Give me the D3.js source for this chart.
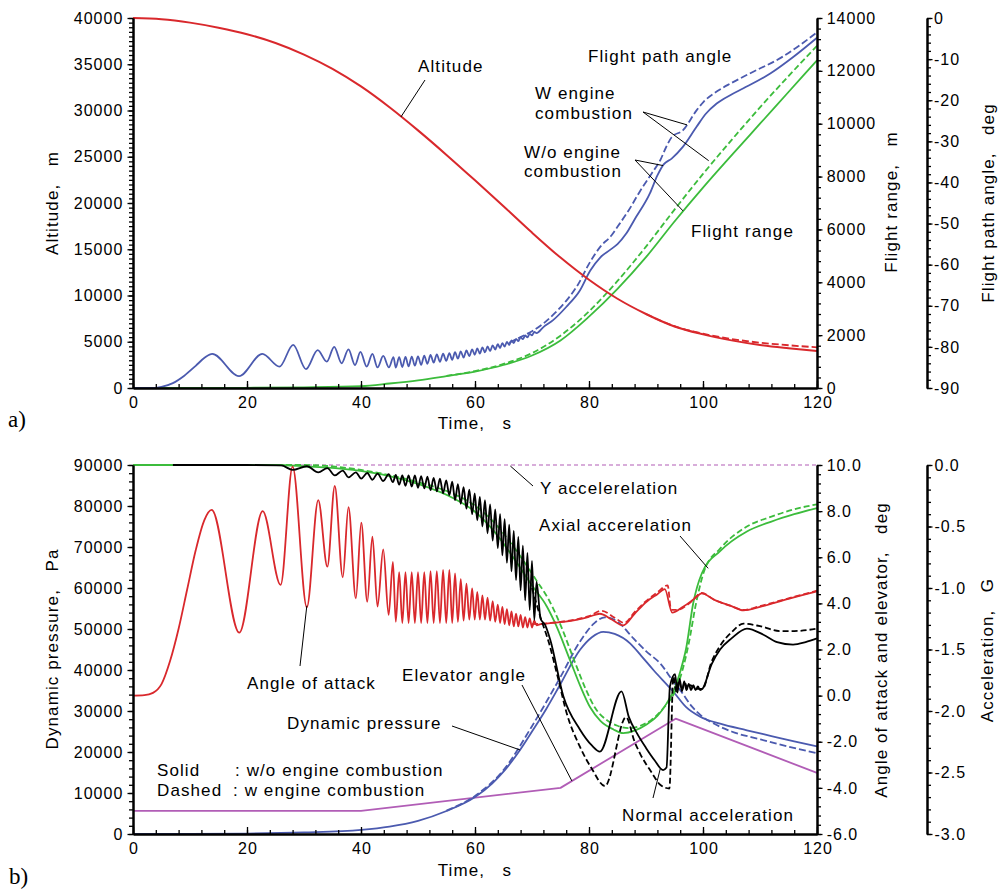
<!DOCTYPE html>
<html><head><meta charset="utf-8">
<script src="https://cdn.jsdelivr.net/npm/d3@7/dist/d3.min.js"></script>
<style>html,body{margin:0;padding:0;background:#fff;} text{white-space:pre;}</style>
</head><body>
<svg id="chart" width="1003" height="893" xmlns="http://www.w3.org/2000/svg"></svg>
<script>
// ---------------- tick labels ----------------
const timeTicks = [0,20,40,60,80,100,120];
const altTicks = [0,5000,10000,15000,20000,25000,30000,35000,40000];
const rangeTicks = [0,2000,4000,6000,8000,10000,12000,14000];
const fpaTicks = [0,-10,-20,-30,-40,-50,-60,-70,-80,-90];
const qTicks = [0,10000,20000,30000,40000,50000,60000,70000,80000,90000];
const degTicks = [-6,-4,-2,0,2,4,6,8,10];
const gTicks = [0,-0.5,-1,-1.5,-2,-2.5,-3];

// ---------------- panel a) ----------------
const altitudeSolid = [[0,40000],[5,39870],[10,39500],[15,38950],[20,38250],[25,37300],[30,36050],[35,34500],[40,32600],[45,30350],[50,27850],[55,25200],[60,22450],[65,19650],[70,16800],[75,14100],[80,11700],[85,9650],[90,8000],[95,6650],[100,5800],[105,5150],[110,4650],[115,4300],[120,4000]];
const altitudeDashed = [[90,8000],[95,6680],[100,5870],[105,5300],[110,4900],[115,4620],[120,4400]];
const rangeSolid = [[0,0],[10,2],[20,8],[30,25],[40,70],[45,170],[50,290],[55,450],[60,620],[65,870],[70,1230],[75,1800],[80,2700],[85,3750],[90,4950],[95,6300],[100,7580],[105,8800],[110,10000],[115,11200],[120,12400]];
const rangeDashed = [[55,460],[60,640],[65,910],[70,1320],[75,1980],[80,2900],[85,4050],[90,5350],[95,6750],[100,8100],[105,9380],[110,10620],[115,11800],[120,12950]];
const fpaEarly = [[0,-90],[3,-90],[5,-89.7],[7,-88.8],[9,-87.0],[11,-84.6],[12.6,-82.6],[13.9,-81.7],[18.6,-87.1],[22.7,-81.7],[25.7,-84.8],[28.1,-79.5],[30.35,-85.4],[32.4,-80.8],[34.0,-83.6],[35.3,-80.0],[36.6,-84.0],[37.8,-80.6],[38.95,-84.4],[39.9,-81.2],[41.0,-84.8],[42.0,-81.7],[42.9,-85.0],[43.9,-82.2],[44.9,-85.0],[45.7,-82.5]];
const fpaLate = [[72,-75.2],[73.7,-73.5],[76,-70.3],[78.4,-66.3],[80.2,-61.5],[82,-58.2],[83.7,-56.4],[85,-55.0],[86.5,-52.5],[88,-49.0],[90.7,-42.6],[92,-38.3],[93.1,-35.6],[94.5,-34.2],[96.5,-31.3],[98.9,-26.4],[100.5,-23.3],[102.4,-20.8],[105,-18.6],[107.1,-17.1],[111.8,-13.5],[116,-9.3],[120,-4.8]];
const fpaDashed = [[66,-79.0],[68,-77.6],[70,-76.2],[72,-74.3],[74,-71.8],[76,-68.8],[78,-65.0],[80,-59.8],[82,-55.6],[84,-52.8],[85,-50.8],[87,-46.7],[89,-42.0],[91,-37.8],[92.5,-34.6],[93.5,-31.5],[94.5,-29.0],[96.5,-27.3],[98.9,-22.4],[100.1,-20.4],[102.4,-17.9],[105,-15.8],[108.2,-13.5],[114,-9.4],[120,-3.5]];

// shared oscillation extrema times (short-period mode)
const oscTime = [46.1,46.7,47.25,47.8,48.35,48.9,49.45,50.0,50.55,51.1,51.65,52.2,52.75,53.3,53.85,54.4,54.95,55.5,56.0,56.5,57.0,57.5,58.0,58.5,59.0,59.5,59.95,60.4,60.85,61.3,61.75,62.2,62.65,63.1,63.55,64.0,64.4,64.8,65.2,65.6,66.0,66.4,66.8,67.2,67.6,68.0,68.4,68.8,69.2,69.6,70.0,70.4,70.8];
const fpaOsc = [-85.05,-82.5,-84.9,-82.42,-84.75,-82.35,-84.58,-82.3,-84.38,-82.15,-84.1,-81.97,-83.85,-81.81,-83.64,-81.67,-83.4,-81.52,-83.13,-81.3,-82.86,-81.1,-82.6,-80.87,-82.26,-80.61,-81.92,-80.38,-81.64,-80.13,-81.34,-79.89,-81.0,-79.62,-80.64,-79.35,-80.27,-79.07,-79.91,-78.79,-79.55,-78.45,-79.08,-78.04,-78.61,-77.63,-78.13,-77.23,-77.65,-76.82,-77.18,-76.38,-76.65];

// ---------------- panel b) ----------------
const aoaEarly = [[0,0],[2,0.02],[3.5,0.12],[5,0.5],[6.5,1.5],[8,2.9],[9.5,4.6],[11,6.3],[12.5,7.6],[13.8,8.05],[18.65,2.73],[22.75,8.0],[25.9,4.8],[28.0,9.93],[30.5,3.83],[32.5,8.48],[34.1,5.59],[35.4,9.09],[36.8,5.13],[37.8,8.17],[39.1,4.22],[40.05,7.5],[41.1,4.07],[42.0,6.89],[42.9,3.86],[43.9,6.34],[44.85,3.5],[45.6,5.8]];
const aoaOsc = [3.2,5.35,3.15,5.35,3.15,5.35,3.15,5.35,3.15,5.35,3.15,5.4,3.15,5.4,3.15,5.45,3.15,5.45,3.15,5.3,3.2,5.05,3.25,4.85,3.3,4.65,3.3,4.5,3.3,4.35,3.3,4.25,3.25,4.1,3.2,3.95,3.15,3.85,3.1,3.75,3.05,3.65,3.0,3.55,3.0,3.5,2.95,3.4,2.95,3.35,2.95,3.25,3.05];
const aoaLate = [[71.5,3.1],[73.5,3.15],[75.5,3.2],[78,3.3],[80,3.42],[81.9,3.55],[84,3.3],[86,3.05],[88,3.55],[90.1,4.07],[92,4.4],[93.3,4.62],[94.6,3.6],[96.5,3.85],[98.5,4.2],[99.8,4.43],[102,4.15],[105,3.88],[107.1,3.7],[110,3.85],[115,4.2],[120,4.52]];
const aoaDashed = [[70,3.1],[72,3.12],[75,3.2],[78,3.32],[80,3.45],[82.2,3.68],[84.5,3.38],[86.2,3.15],[88,3.62],[90,4.1],[92,4.48],[93.8,4.78],[94.4,3.72],[95.5,3.72],[97.5,3.98],[99.8,4.45],[102,4.15],[105,3.88],[107.1,3.72],[110,3.88],[115,4.22],[120,4.55]];

const normEarly = [[7,0],[20,0],[26,-0.003],[28.0,-0.04],[30.5,-0.01],[32.5,-0.06],[34.1,-0.025],[35.4,-0.085],[36.8,-0.045],[37.8,-0.1],[39.1,-0.06],[40.05,-0.11],[41.1,-0.065],[42.0,-0.12],[42.9,-0.07],[43.9,-0.13],[44.85,-0.075],[45.6,-0.14]];
const normOsc = [-0.08,-0.16,-0.085,-0.17,-0.085,-0.175,-0.085,-0.185,-0.09,-0.19,-0.095,-0.205,-0.105,-0.215,-0.11,-0.23,-0.125,-0.245,-0.135,-0.285,-0.155,-0.315,-0.18,-0.355,-0.2,-0.4,-0.23,-0.45,-0.26,-0.5,-0.285,-0.555,-0.32,-0.615,-0.36,-0.675,-0.4,-0.735,-0.44,-0.795,-0.485,-0.865,-0.535,-0.935,-0.585,-1.02,-0.655,-1.1,-0.715,-1.18,-0.78,-1.26,-0.95];
const normLate = [[71.5,-1.25],[72.3,-1.3],[73.2,-1.42],[75.5,-1.88],[78.4,-2.15],[80.5,-2.28],[81.9,-2.33],[85.7,-1.84],[87,-2.05],[88.4,-2.18],[90,-2.3],[91.5,-2.4],[93.0,-2.48],[93.6,-2.46],[94.2,-1.8],[95.1,-1.70],[95.5,-1.85],[95.9,-1.74],[96.3,-1.84],[96.7,-1.76],[97.1,-1.83],[97.5,-1.78],[97.9,-1.83],[98.3,-1.79],[98.7,-1.83],[99.1,-1.8],[99.5,-1.83],[99.9,-1.82],[101.5,-1.62],[103,-1.5],[105,-1.41],[107.7,-1.33],[110.6,-1.38],[113,-1.44],[115.8,-1.46],[118,-1.44],[120,-1.41]];
const normDashed = [[70,-1.0],[71.5,-1.24],[73,-1.45],[74.5,-1.72],[76.1,-2.02],[78.4,-2.29],[80.5,-2.47],[82.8,-2.61],[86.5,-2.05],[88,-2.25],[89,-2.35],[91,-2.5],[92.5,-2.6],[94.1,-2.63],[94.8,-1.72],[95.3,-1.84],[95.8,-1.75],[96.3,-1.83],[96.8,-1.77],[97.3,-1.82],[97.8,-1.79],[98.5,-1.82],[99.9,-1.82],[101.5,-1.6],[103,-1.47],[105,-1.36],[107.1,-1.29],[110,-1.31],[113.5,-1.35],[116,-1.35],[120,-1.33]];

const axialSolid = [[0,0],[25,0],[30,-0.01],[38.6,-0.04],[45,-0.09],[50.4,-0.16],[56.2,-0.27],[60,-0.38],[63,-0.52],[66.7,-0.75],[70,-0.98],[72.6,-1.15],[74,-1.28],[76.7,-1.59],[78.5,-1.8],[80.2,-1.97],[82,-2.08],[84.3,-2.15],[86,-2.18],[88,-2.16],[90.1,-2.11],[92,-2.04],[93.6,-1.94],[95,-1.82],[96,-1.68],[97,-1.5],[98.3,-1.12],[99.8,-0.88],[103,-0.7],[107.7,-0.54],[112,-0.46],[116,-0.4],[120,-0.35]];
const axialDashed = [[0,0],[30,0],[40,-0.04],[50,-0.14],[56,-0.23],[60,-0.33],[63,-0.45],[67,-0.68],[70.8,-0.94],[73,-1.1],[75,-1.3],[77.5,-1.6],[79.5,-1.83],[81,-1.97],[83,-2.07],[85,-2.12],[87,-2.14],[89,-2.12],[91,-2.07],[93,-1.98],[95,-1.85],[96.5,-1.65],[97.5,-1.45],[98.8,-1.12],[100.3,-0.85],[103,-0.68],[107.7,-0.5],[112,-0.42],[116,-0.36],[120,-0.32]];

const qSolid = [[0,0],[10,20],[20,100],[30,380],[40,1000],[45,1800],[50,3200],[55,5600],[60,9000],[63,12300],[65,15200],[67.9,20500],[70,25000],[72.5,30500],[74.9,36340],[78.4,44880],[80.5,48000],[82.5,49300],[84.5,48800],[87.2,46500],[89.2,43400],[91.3,40000],[94.8,34700],[97,31000],[99.5,28600],[103,26900],[107.7,25300],[112,23900],[116,22600],[120,21400]];
const qDashed = [[55,5700],[60,9300],[65,15600],[70,26300],[75,38300],[78.4,46900],[81,51500],[82.8,52850],[85,51800],[87.8,47700],[90,44600],[92.5,41600],[95,36800],[96,35100],[98,31200],[100,28500],[101.8,27000],[105,25000],[110,23100],[115,21300],[120,19700]];

const elevator = [[0,-5.0],[40,-5.0],[75,-4.0],[95.2,-1.0],[120,-3.35]];
const yAccSolid = [[0,0],[8,0]];
const yAccDashed = [[0,0],[120,0]];

// ---------------- drawing ----------------
const FONT = '"Liberation Sans", Arial, Helvetica, sans-serif';
const RED = '#d9282c', BLUE = '#4b5aaf', GREEN = '#3cbc3c', PURPLE = '#b15db6', BLACK = '#000';
const svg = d3.select('#chart');

const x = d3.scaleLinear().domain([0,120]).range([133,817]);
const yAlt = d3.scaleLinear().domain([0,40000]).range([388,18]);
const yRng = d3.scaleLinear().domain([0,14000]).range([388,18]);
const yFpa = d3.scaleLinear().domain([-90,0]).range([388,18]);
const yQ = d3.scaleLinear().domain([0,90000]).range([834,465]);
const yDeg = d3.scaleLinear().domain([-6,10]).range([834,465]);
const yG = d3.scaleLinear().domain([-3,0]).range([834,465]);

function styleAxis(g){
  g.attr('font-family', FONT).attr('font-size', 16);
  g.selectAll('.domain').attr('stroke', '#000').attr('stroke-width', 2);
  g.selectAll('.tick line').attr('stroke', '#000').attr('stroke-width', 1.3);
  g.selectAll('.tick text').attr('fill', '#000').style('letter-spacing', '1px');
}
function vAxis(scale, xpos, left, majors, minorStep, fmt, pad){
  const dom = scale.domain(), lo = Math.min(dom[0],dom[1]), hi = Math.max(dom[0],dom[1]);
  const n = Math.round((hi-lo)/minorStep);
  const minors = d3.range(n+1).map(i => +(lo + i*minorStep).toFixed(6));
  const mk = left ? d3.axisLeft : d3.axisRight;
  svg.append('g').attr('transform', `translate(${xpos},0)`)
    .call(mk(scale).tickValues(minors).tickSize(4).tickSizeOuter(0).tickFormat(''))
    .call(styleAxis);
  svg.append('g').attr('transform', `translate(${xpos},0)`)
    .call(mk(scale).tickValues(majors).tickSize(5.5).tickSizeOuter(0).tickPadding(pad).tickFormat(fmt))
    .call(styleAxis);
}
function hAxis(ypos){
  const minors = d3.range(0,121,4);
  svg.append('g').attr('transform', `translate(0,${ypos})`)
    .call(d3.axisBottom(x).tickValues(minors).tickSizeInner(-4).tickSizeOuter(0).tickFormat(''))
    .call(styleAxis);
  const g = svg.append('g').attr('transform', `translate(0,${ypos})`)
    .call(d3.axisBottom(x).tickValues(timeTicks).tickSizeInner(-7).tickSizeOuter(0).tickPadding(9).tickFormat(d => String(d)))
    .call(styleAxis);
  g.selectAll('.tick text').attr('dx', '0.5px');
}
const plain = d => String(d);
const one = d => (Math.abs(d) < 1e-9 ? 0 : d).toFixed(1);

function plot(data, ys, color, width, dash, curve){
  const line = d3.line().x(d => x(d[0])).y(d => ys(d[1])).curve(curve || d3.curveMonotoneX);
  const p = svg.append('path').datum(data).attr('d', line)
    .attr('fill', 'none').attr('stroke', color).attr('stroke-width', width)
    .attr('stroke-linejoin', 'round').attr('stroke-linecap', 'butt');
  if (dash) p.attr('stroke-dasharray', dash);
  return p;
}
function label(txt, px, py, opt){
  opt = opt || {};
  const t = svg.append('text').attr('x', px).attr('y', py).text(txt)
    .attr('font-family', opt.family || FONT).attr('font-size', opt.size || 17)
    .attr('fill', '#000').attr('xml:space', 'preserve')
    .style('letter-spacing', (opt.ls !== undefined ? opt.ls : 1.1) + 'px');
  if (opt.anchor) t.attr('text-anchor', opt.anchor);
  return t;
}
function vlabel(txt, px, py){
  return svg.append('text').attr('transform', `translate(${px},${py}) rotate(-90)`)
    .attr('text-anchor', 'middle').text(txt)
    .attr('font-family', FONT).attr('font-size', 17).attr('fill', '#000')
    .attr('xml:space', 'preserve').style('letter-spacing', '1.1px');
}
function leader(x1, y1, x2, y2){
  svg.append('line').attr('x1', x1).attr('y1', y1).attr('x2', x2).attr('y2', y2)
    .attr('stroke', '#000').attr('stroke-width', 1);
}
const pts = (ts, vs) => ts.map((t,i) => [t, vs[i]]);

// ===== panel a) =====
plot(rangeSolid, yRng, GREEN, 1.8);
plot(rangeDashed, yRng, GREEN, 1.8, '6,3');
plot(fpaEarly.concat(pts(oscTime, fpaOsc), fpaLate), yFpa, BLUE, 1.8);
plot(fpaDashed, yFpa, BLUE, 1.8, '7,3');
plot(altitudeSolid, yAlt, RED, 2);
plot(altitudeDashed, yAlt, RED, 1.8, '7,3');

vAxis(yAlt, 133, true, altTicks, 500, plain, 4.2);
vAxis(yRng, 817, false, rangeTicks, 400, plain, 4.2);
vAxis(yFpa, 927, false, fpaTicks, 2, plain, 1.5);
hAxis(388);

vlabel('Altitude,   m', 58, 203);
vlabel('Flight range,   m', 897, 202);
vlabel('Flight path angle,   deg', 994, 203);
label('Time,   s', 475, 429, {anchor: 'middle'});
label('a)', 8, 427, {family: '"Liberation Serif", "DejaVu Serif", serif', size: 23, ls: 0});

label('Altitude', 418, 72);
leader(425, 80, x(47), yAlt(29300));
label('Flight path angle', 588, 62);
label('W engine', 535, 99);
label('combustion', 535, 119);
leader(643, 112, x(97.2), yFpa(-26.0));
leader(643, 112, x(101), yRng(8600));
label('W/o engine', 524, 158);
label('combustion', 524, 177);
leader(635, 160, x(93.0), yFpa(-35.9));
leader(635, 160, x(96.5), yRng(6700));
label('Flight range', 691, 237);

// ===== panel b) =====
plot(yAccSolid, yG, PURPLE, 1.5);
plot(yAccDashed, yG, PURPLE, 1.2, '4,3');
plot(elevator, yDeg, PURPLE, 1.8, null, d3.curveLinear);
plot(qSolid, yQ, BLUE, 1.8);
plot(qDashed, yQ, BLUE, 1.8, '7,3');
plot(axialSolid, yG, GREEN, 1.8);
plot(axialDashed, yG, GREEN, 1.8, '6,3');
plot(aoaEarly.concat(pts(oscTime, aoaOsc), aoaLate), yDeg, RED, 1.8);
plot(aoaDashed, yDeg, RED, 1.8, '6,3');
plot(normEarly.concat(pts(oscTime, normOsc), normLate), yG, BLACK, 1.8);
plot(normDashed, yG, BLACK, 1.8, '6,3');

vAxis(yQ, 133, true, qTicks, 2000, plain, 4.2);
vAxis(yDeg, 817, false, degTicks, 0.4, one, 4.2);
vAxis(yG, 927, false, gTicks, 0.1, one, 2);
hAxis(834);

vlabel('Dynamic pressure,   Pa', 58, 649);
vlabel('Angle of attack and elevator,   deg', 887, 650);
vlabel('Acceleration,   G', 993, 650);
label('Time,   s', 475, 876, {anchor: 'middle'});
label('b)', 9, 884, {family: '"Liberation Serif", "DejaVu Serif", serif', size: 23, ls: 0});

label('Y accelerelation', 540, 494);
leader(533, 486, x(66.2), yG(0) + 1);
label('Axial accerelation', 539, 531);
leader(680, 536, x(100.9), yG(-0.84));
label('Angle of attack', 247, 689);
leader(300, 666, x(30.5), yDeg(3.9));
label('Elevator angle', 402, 681);
leader(522, 685, x(77.0), yDeg(-3.7));
label('Dynamic pressure', 287, 729);
leader(452, 726, x(67.9), yQ(20500));
label('Solid', 157, 776);
label(': w/o engine combustion', 235, 776);
label('Dashed', 157, 796);
label(': w engine combustion', 233, 796);
label('Normal acceleration', 622, 821);
leader(653, 798, x(92.5), yG(-2.47));
</script></body></html>
